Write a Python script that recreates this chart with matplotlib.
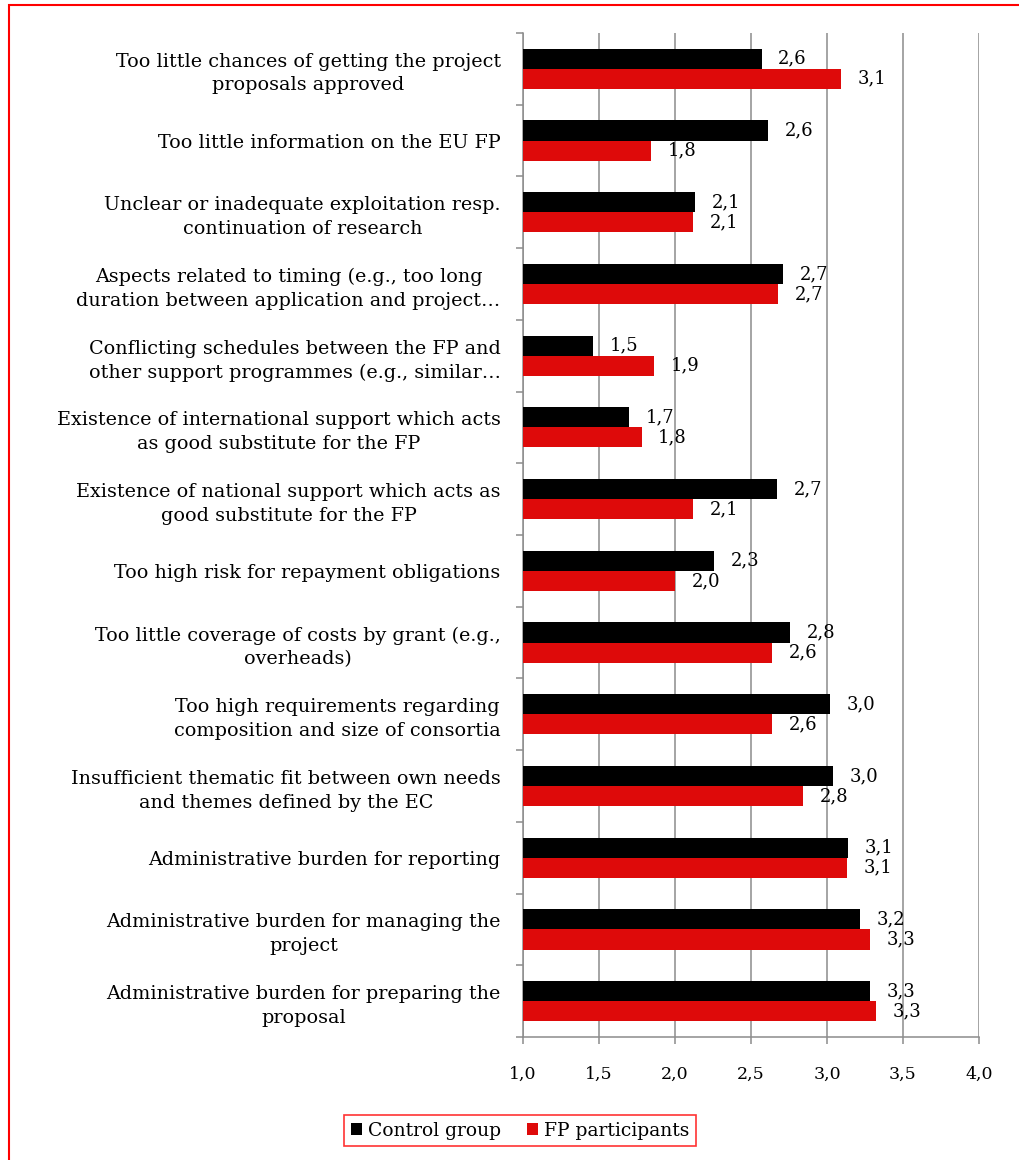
#!/usr/bin/env python
# Barriers to FP participation: control group vs. FP participants

import matplotlib
matplotlib.use("Agg")
import matplotlib.pyplot as plt
from matplotlib.patches import Rectangle
import numpy as np

# Categories, top to bottom (Excel truncated two of them with an ellipsis)
categories = [
    "Too little chances of getting the project\nproposals approved",
    "Too little information on the EU FP",
    "Unclear or inadequate exploitation resp.\ncontinuation of research",
    "Aspects related to timing (e.g., too long\nduration between application and project\u2026",
    "Conflicting schedules between the FP and\nother support programmes (e.g., similar\u2026",
    "Existence of international support which acts\nas good substitute for the FP",
    "Existence of national support which acts as\ngood substitute for the FP",
    "Too high risk for repayment obligations",
    "Too little coverage of costs by grant (e.g.,\noverheads)",
    "Too high requirements regarding\ncomposition and size of consortia",
    "Insufficient thematic fit between own needs\nand themes defined by the EC",
    "Administrative burden for reporting",
    "Administrative burden for managing the\nproject",
    "Administrative burden for preparing the\nproposal",
]

control_group = [2.57, 2.61, 2.13, 2.71, 1.46, 1.70, 2.67, 2.26, 2.76, 3.02, 3.04, 3.14, 3.22, 3.28]
fp_participants = [3.09, 1.84, 2.12, 2.68, 1.86, 1.78, 2.12, 2.00, 2.64, 2.64, 2.84, 3.13, 3.28, 3.32]

x_ticks = [1.0, 1.5, 2.0, 2.5, 3.0, 3.5, 4.0]

BLACK = "#000000"
RED = "#DE0A0A"
GRID = "#8C8C8C"
FONT = "DejaVu Serif"


def comma(v):
    # German style decimal separator
    return f"{v:.1f}".replace(".", ",")


def main():
    plt.rcParams["font.family"] = FONT

    fig = plt.figure(figsize=(10.2, 11.6), dpi=100)
    ax = fig.add_axes([0.5127, 0.106, 0.9598 - 0.5127, 0.9716 - 0.106])

    y = np.arange(len(categories))
    h = 0.28
    base = 1.0

    ax.barh(y - h / 2, np.array(control_group) - base, left=base, height=h,
            color=BLACK, label="Control group", zorder=3)
    ax.barh(y + h / 2, np.array(fp_participants) - base, left=base, height=h,
            color=RED, label="FP participants", zorder=3)

    # Value labels right of each bar
    for i, (c, f) in enumerate(zip(control_group, fp_participants)):
        ax.annotate(comma(c), (c, i - h / 2), xytext=(12, 0), textcoords="offset points",
                    ha="left", va="center", fontsize=13)
        ax.annotate(comma(f), (f, i + h / 2), xytext=(12, 0), textcoords="offset points",
                    ha="left", va="center", fontsize=13)

    ax.set_xlim(1.0, 4.0)
    ax.set_ylim(len(categories) - 0.5, -0.5)
    ax.set_xticks(x_ticks)
    ax.set_xticklabels([comma(v) for v in x_ticks], fontsize=12.5)

    # category ticks at boundaries, labels in the middle
    ax.set_yticks(np.arange(len(categories) + 1) - 0.5)
    ax.set_yticklabels([])
    ax.set_yticks(y, minor=True)
    ax.set_yticklabels(categories, minor=True, fontsize=13.8, ha="right",
                       multialignment="center", linespacing=1.4)
    ax.tick_params(axis="y", which="minor", length=0, pad=16)
    ax.tick_params(axis="y", which="major", length=5, width=1.1, color=GRID)
    ax.tick_params(axis="x", length=5, width=1.1, color=GRID, pad=16)

    ax.xaxis.grid(True, color=GRID, linewidth=1.1, zorder=0)
    for s in ["top", "right"]:
        ax.spines[s].set_visible(False)
    for s in ["left", "bottom"]:
        ax.spines[s].set_color(GRID)
        ax.spines[s].set_linewidth(1.1)

    leg = fig.legend(loc="center", bbox_to_anchor=(0.51, 0.0254), ncol=2,
                     fontsize=13.5, frameon=True, fancybox=False, handlelength=0.6,
                     handleheight=0.6, handletextpad=0.3, columnspacing=1.4,
                     borderpad=0.35, borderaxespad=0)
    leg.get_frame().set_edgecolor("#FF0000")
    leg.get_frame().set_linewidth(1.2)

    # red chart border (clipped on the right and bottom in the original)
    fig.patches.append(Rectangle((9 / 1020, -0.01), 1.05, 1 - 5 / 1160 + 0.01,
                                 transform=fig.transFigure, fill=False,
                                 edgecolor="#FF0000", linewidth=1.5))

    fig.savefig("out.png", dpi=100)


if __name__ == "__main__":
    main()
